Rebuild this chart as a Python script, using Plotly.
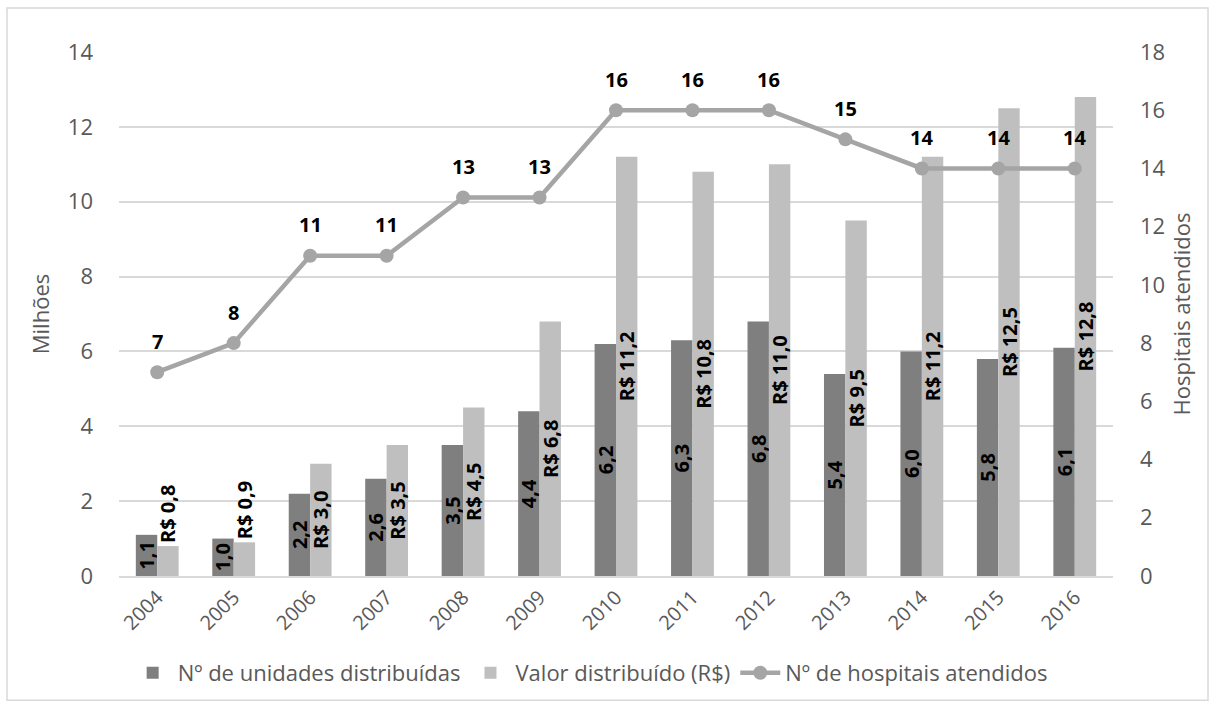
import plotly.graph_objects as go

years = ["2004", "2005", "2006", "2007", "2008", "2009", "2010", "2011", "2012", "2013", "2014", "2015", "2016"]
unidades = [1.1, 1.0, 2.2, 2.6, 3.5, 4.4, 6.2, 6.3, 6.8, 5.4, 6.0, 5.8, 6.1]
valor = [0.8, 0.9, 3.0, 3.5, 4.5, 6.8, 11.2, 10.8, 11.0, 9.5, 11.2, 12.5, 12.8]
hospitais = [7, 8, 11, 11, 13, 13, 16, 16, 16, 15, 14, 14, 14]

def br(v):
    return f"{v:.1f}".replace(".", ",")

FONT = "Open Sans"
GREY_TXT = "#595959"
LBL = dict(family=FONT, size=20, color="black", weight="bold")

fig = go.Figure()
fig.add_trace(go.Bar(
    x=years, y=unidades, name="Nº de unidades distribuídas",
    marker=dict(color="#7f7f7f", line=dict(width=0)),
    text=[br(v) for v in unidades], textposition="inside", insidetextanchor="middle",
    textangle=-90, constraintext="none", textfont=LBL, cliponaxis=False,
))
fig.add_trace(go.Bar(
    x=years, y=valor, name="Valor distribuído (R$)",
    marker=dict(color="#bfbfbf", line=dict(width=0)),
    text=["R$ " + br(v) for v in valor],
    textposition=["outside" if v < 1.5 else "inside" for v in valor],
    insidetextanchor="middle",
    textangle=-90, constraintext="none", textfont=LBL, cliponaxis=False,
))
fig.add_trace(go.Scatter(
    x=years, y=hospitais, name="Nº de hospitais atendidos", yaxis="y2",
    mode="lines+markers",
    line=dict(color="#a5a5a5", width=4.5),
    marker=dict(color="#a5a5a5", size=14),
    cliponaxis=False,
))

for i, h in enumerate(hospitais):
    fig.add_annotation(x=i, y=h, xref="x", yref="y2", text=str(h), showarrow=False,
                       yshift=31, font=LBL)

fig.update_layout(
    width=1216, height=708,
    margin=dict(l=119, r=103, t=52, b=132, autoexpand=False),
    paper_bgcolor="white", plot_bgcolor="white",
    font=dict(family=FONT, size=22, color=GREY_TXT),
    barmode="group", bargap=0.44, bargroupgap=0,
    xaxis=dict(type="category", range=[-0.5, 12.5], tickangle=-45, showgrid=False, showline=True,
               linecolor="#d9d9d9", linewidth=1.5, ticks="",
               tickfont=dict(size=20, color=GREY_TXT)),
    yaxis=dict(range=[0, 14], dtick=2, showgrid=True, gridcolor="#d9d9d9", gridwidth=1.5,
               zeroline=False, title=dict(text="Milhões", standoff=12, font=dict(size=22, color=GREY_TXT)),
               tickfont=dict(size=22, color=GREY_TXT), ticklabelstandoff=25),
    yaxis2=dict(range=[0, 18], dtick=2, overlaying="y", side="right", showgrid=False,
                zeroline=False, title=dict(text="Hospitais atendidos", standoff=10, font=dict(size=22, color=GREY_TXT)),
                tickfont=dict(size=22, color=GREY_TXT), ticklabelstandoff=26),
    legend=dict(orientation="h", x=0.474, xanchor="center", y=-0.185, yanchor="middle",
                font=dict(size=22, color=GREY_TXT), traceorder="normal", itemwidth=40),
    showlegend=True,
)

fig.add_shape(type="rect", xref="paper", yref="paper",
              x0=-0.1127, x1=1.0956, y0=-0.237, y1=1.084,
              line=dict(color="#d9d9d9", width=1.5), fillcolor="rgba(0,0,0,0)", layer="below")

fig.write_html("out.html")
